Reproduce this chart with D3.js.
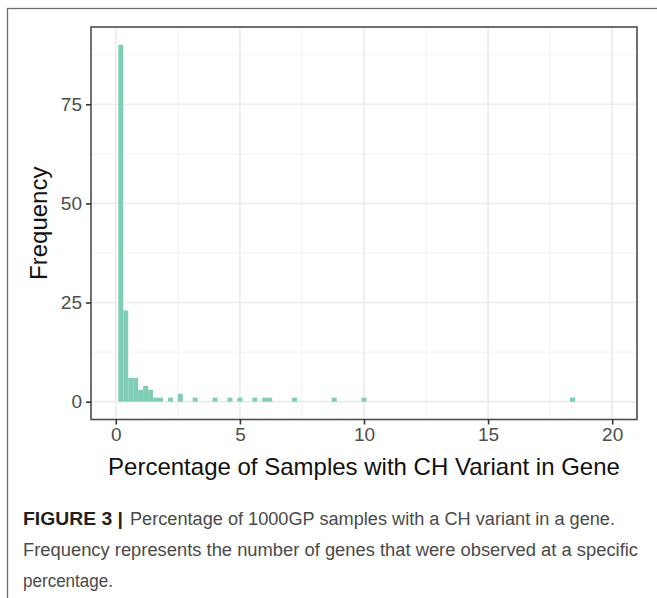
<!DOCTYPE html>
<html>
<head>
<meta charset="utf-8">
<script src="https://cdn.jsdelivr.net/npm/d3@7"></script>
<style>
  body { margin: 0; background: #fff; }
  svg { display: block; }
</style>
</head>
<body>
<div id="chart"></div>
<script>
// data: histogram bins (lower edge, width 0.2) and counts
const binLower = [0.1, 0.3, 0.5, 0.7, 0.9, 1.1, 1.3, 1.5, 1.7, 2.1, 2.5, 3.1, 3.9, 4.5, 4.9, 5.5, 5.9, 6.1, 7.1, 8.7, 9.9, 18.3];
const binCount = [90, 23, 6, 6, 3, 4, 3, 1, 1, 1, 2, 1, 1, 1, 1, 1, 1, 1, 1, 1, 1, 1];
const binWidth = 0.2;
const xTicks = [0, 5, 10, 15, 20];
const xMinor = [2.5, 7.5, 12.5, 17.5];
const yTicks = [0, 25, 50, 75];
const yMinor = [12.5, 37.5, 62.5, 87.5];
const xTitle = "Percentage of Samples with CH Variant in Gene";
const yTitle = "Frequency";
const captionBold = "FIGURE 3 |";
const captionLines = [
  "Percentage of 1000GP samples with a CH variant in a gene.",
  "Frequency represents the number of genes that were observed at a specific",
  "percentage."
];

const W = 657, H = 598;
const panel = {left: 91, right: 637, top: 27, bottom: 419.5};

const svg = d3.select("#chart").append("svg")
  .attr("width", W).attr("height", H);

// outer figure frame (runs off the right/bottom edge)
svg.append("rect")
  .attr("x", 7.5).attr("y", 8.5)
  .attr("width", W + 20).attr("height", H + 20)
  .attr("fill", "none").attr("stroke", "#6e6e6e").attr("stroke-width", 1.3);

const x = d3.scaleLinear().domain([-1, 21]).range([panel.left, panel.right]);
const y = d3.scaleLinear().domain([-4.5, 94.5]).range([panel.bottom, panel.top]);

const grid = svg.append("g");
// minor grid
grid.selectAll(".xm").data(xMinor).join("line")
  .attr("x1", d => x(d)).attr("x2", d => x(d))
  .attr("y1", panel.top).attr("y2", panel.bottom)
  .attr("stroke", "#f2f2f2").attr("stroke-width", 1);
grid.selectAll(".ym").data(yMinor).join("line")
  .attr("y1", d => y(d)).attr("y2", d => y(d))
  .attr("x1", panel.left).attr("x2", panel.right)
  .attr("stroke", "#f2f2f2").attr("stroke-width", 1);
// major grid
grid.selectAll(".xM").data(xTicks).join("line")
  .attr("x1", d => x(d)).attr("x2", d => x(d))
  .attr("y1", panel.top).attr("y2", panel.bottom)
  .attr("stroke", "#ebebeb").attr("stroke-width", 1.6);
grid.selectAll(".yM").data(yTicks).join("line")
  .attr("y1", d => y(d)).attr("y2", d => y(d))
  .attr("x1", panel.left).attr("x2", panel.right)
  .attr("stroke", "#ebebeb").attr("stroke-width", 1.6);

// bars
const bins = binLower.map((b, i) => ({x0: b, x1: b + binWidth, n: binCount[i]}));
svg.append("g").selectAll("rect")
  .data(bins)
  .join("rect")
  .attr("x", d => x(d.x0))
  .attr("width", d => x(d.x1) - x(d.x0))
  .attr("y", d => y(d.n))
  .attr("height", d => y(0) - y(d.n))
  .attr("fill", "#7fcdb6");

// panel border
svg.append("rect")
  .attr("x", panel.left).attr("y", panel.top)
  .attr("width", panel.right - panel.left).attr("height", panel.bottom - panel.top)
  .attr("fill", "none").attr("stroke", "#4d4d4d").attr("stroke-width", 1.6);

// axes
const xAxis = svg.append("g")
  .attr("transform", "translate(0," + panel.bottom + ")")
  .call(d3.axisBottom(x).tickValues(xTicks).tickSize(5).tickPadding(3).tickFormat(d3.format("d")));
const yAxis = svg.append("g")
  .attr("transform", "translate(" + panel.left + ",0)")
  .call(d3.axisLeft(y).tickValues(yTicks).tickSize(5).tickPadding(4).tickFormat(d3.format("d")));
[xAxis, yAxis].forEach(a => {
  a.select(".domain").remove();
  a.selectAll(".tick line").attr("stroke", "#333").attr("stroke-width", 1.6);
  a.selectAll(".tick text")
    .attr("fill", "#4d4d4d")
    .style("font-family", "'Liberation Sans', Arial, sans-serif")
    .style("font-size", "19px");
});

// axis titles
svg.append("text")
  .attr("x", (panel.left + panel.right) / 2).attr("y", 475)
  .attr("text-anchor", "middle")
  .style("font-family", "'Liberation Sans', Arial, sans-serif")
  .style("font-size", "24px").attr("fill", "#111")
  .text(xTitle);
svg.append("text")
  .attr("transform", "translate(47," + (panel.top + panel.bottom) / 2 + ") rotate(-90)")
  .attr("text-anchor", "middle")
  .style("font-family", "'Liberation Sans', Arial, sans-serif")
  .style("font-size", "24px").attr("fill", "#111")
  .text(yTitle);

// caption: condensed face in the figure, squeezed to the widths seen there
const cap = svg.append("g")
  .style("font-family", "'Liberation Sans', Arial, sans-serif")
  .style("font-size", "18px");
cap.append("text").attr("x", 23).attr("y", 525)
  .attr("font-weight", "bold").attr("fill", "#231f20")
  .attr("textLength", 100).attr("lengthAdjust", "spacingAndGlyphs")
  .text(captionBold);
const capSpec = [
  {x: 130, y: 525, w: 485},
  {x: 23, y: 556, w: 615},
  {x: 23, y: 587, w: 90}
];
captionLines.forEach((t, i) => {
  cap.append("text").attr("x", capSpec[i].x).attr("y", capSpec[i].y)
    .attr("fill", "#4a4a4a")
    .attr("textLength", capSpec[i].w).attr("lengthAdjust", "spacingAndGlyphs")
    .text(t);
});
</script>
</body>
</html>
